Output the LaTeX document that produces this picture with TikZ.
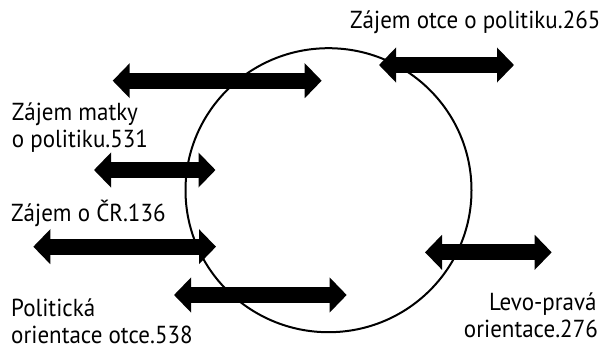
\documentclass[tikz,border=0pt]{standalone}
\usepackage{fontspec}
\setmainfont[FakeStretch=0.935]{PT Sans}
\usetikzlibrary{arrows.meta,shapes.geometric}
\begin{document}
\begin{tikzpicture}[x=1pt,y=-1pt,
  lbl/.style={inner sep=0pt,font=\fontsize{24.6}{28}\selectfont},
  bigarrow/.style={line width=16pt,{Triangle[length=17pt,width=34pt]}-{Triangle[length=17pt,width=34pt]}},
  ring/.style={line width=2pt}]
\useasboundingbox (0,0) rectangle (603,349);
% circle
\node[ring,draw,ellipse,minimum width=286pt,minimum height=284pt,inner sep=0pt] (c) at (328.5,190.2) {};
% arrow end points
\coordinate (a1l) at (112.7,80.7); \coordinate (a1r) at (321.7,80.7);
\coordinate (a2l) at (379,65);     \coordinate (a2r) at (514,65);
\coordinate (a3l) at (94,170);     \coordinate (a3r) at (215.5,170);
\coordinate (a4l) at (33.3,246.7); \coordinate (a4r) at (216,246.7);
\coordinate (a5l) at (174,295);    \coordinate (a5r) at (346.7,295);
\coordinate (a6l) at (425,252.3);  \coordinate (a6r) at (551.7,252.3);
\draw[bigarrow] (a1l) -- (a1r);
\draw[bigarrow] (a2l) -- (a2r);
\draw[bigarrow] (a3l) -- (a3r);
\draw[bigarrow] (a4l) -- (a4r);
\draw[bigarrow] (a5l) -- (a5r);
\draw[bigarrow] (a6l) -- (a6r);
% labels
\node[lbl,anchor=base west] (t1) at (350,28.3) {Zájem otce o politiku.265};
\node[lbl,anchor=base west] (t2a) at (11.7,120) {Zájem matky};
\node[lbl,anchor=base west] (t2b) at (11.7,147.7) {o politiku.531};
\node[lbl,anchor=base west] (t3) at (11,221.7) {Zájem o ČR.136};
\node[lbl,anchor=base west] (t4a) at (11,316) {Politická};
\node[lbl,anchor=base west] (t4b) at (11,343.3) {orientace otce.538};
\node[lbl,anchor=base east] (t5a) at (596.7,310) {Levo-pravá};
\node[lbl,anchor=base east] (t5b) at (598,337.3) {orientace.276};
\end{tikzpicture}
\end{document}
